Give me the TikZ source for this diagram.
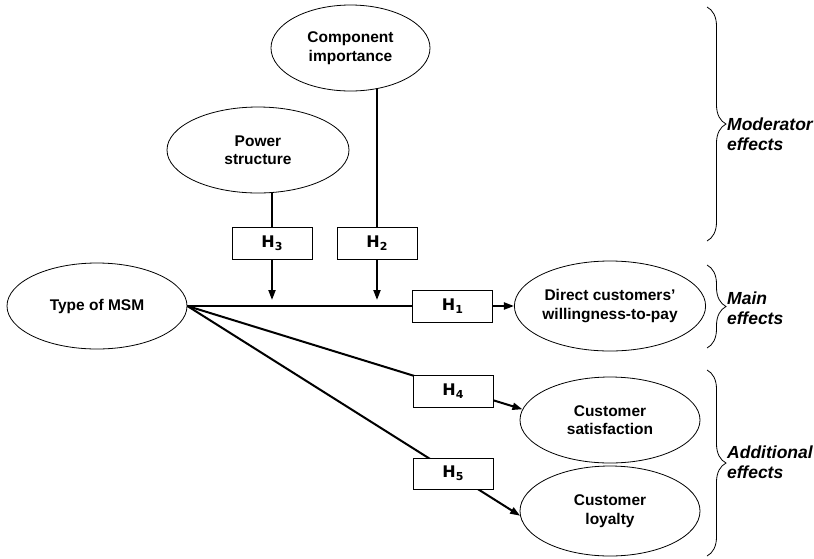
\documentclass[tikz,border=0pt]{standalone}
\usepackage{fontspec}
\setmainfont{Liberation Sans}
\newfontfamily\hypfont{DejaVu Sans}
\usetikzlibrary{shapes.geometric,arrows.meta,decorations.pathreplacing,backgrounds}

% H label with a lowered index
\newcommand{\hyplabel}[1]{H\raisebox{-2.8pt}{\fontsize{11}{11}\selectfont #1}}

\tikzset{
  factor/.style={ellipse, draw, line width=0.8pt, fill=white, inner sep=0pt,
    minimum width=180pt, minimum height=86pt, align=center,
    font=\fontsize{15.5}{18.5}\selectfont\bfseries},
  hyp/.style={rectangle, draw, line width=0.9pt, fill=white,
    minimum width=80pt, minimum height=32pt, inner sep=0pt,
    font=\hypfont\bfseries\fontsize{16}{16}\selectfont},
  conn/.style={line width=2pt},
  arr/.style={conn, -{Triangle[length=10pt,width=7pt]}},
  grp/.style={decorate, decoration={brace, amplitude=19pt}, line width=0.8pt},
  grplabel/.style={anchor=west, align=left, inner sep=0pt,
    font=\fontsize{17.5}{20}\selectfont\bfseries\itshape},
}

\begin{document}
\begin{tikzpicture}[x=1pt, y=-1pt]
  \useasboundingbox (0,0) rectangle (814,558);

  % constructs
  \node[factor, minimum width=159pt] (comp) at (350.5,48) {Component\\importance};
  \node[factor, minimum width=182pt] (pow) at (258,150) {Power\\structure};
  \node[factor] (msm) at (97,306) {Type of MSM};
  \node[factor, minimum height=90pt] (dir) at (610,306) {Direct customers’\\willingness-to-pay};
  \node[factor] (sat) at (610,420) {Customer\\satisfaction};
  \node[factor, minimum height=90pt] (loy) at (610,511) {Customer\\loyalty};

  % hypotheses
  \node[hyp] (h3) at (272,243) {\hyplabel{3}};
  \node[hyp] (h2) at (377,243) {\hyplabel{2}};
  \node[hyp] (h1) at (452.5,306) {\hyplabel{1}};
  \node[hyp] (h4) at (453,391) {\hyplabel{4}};
  \node[hyp, minimum height=31pt] (h5) at (453,473.5) {\hyplabel{5}};

  % moderator arrows end just above the main path
  \coordinate (t3) at (272,300);
  \coordinate (t2) at (377,300);

  % paths run behind the white-filled boxes and ellipses
  \begin{scope}[on background layer]
    \draw[arr] (pow.center -| t3) -- (t3);
    \draw[arr] (comp.center -| t2) -- (t2);
    \draw[arr] (msm.east) -- (dir.west);
    \draw[arr] (msm.east) -- (sat.173);
    \draw[arr] (msm.east) -- (loy.183);
  \end{scope}

  % effect groups
  \coordinate (m1) at (707,7);
  \coordinate (m2) at (707,241);
  \coordinate (e1) at (707,265);
  \coordinate (e2) at (707,348);
  \coordinate (a1) at (707,370);
  \coordinate (a2) at (707,556);
  \draw[grp] (m1) -- (m2);
  \draw[grp] (e1) -- (e2);
  \draw[grp] (a1) -- (a2);
  \node[grplabel] (lm) at (727,134) {Moderator\\effects};
  \node[grplabel] (le) at (727,308) {Main\\effects};
  \node[grplabel] (la) at (727,462) {Additional\\effects};
\end{tikzpicture}
\end{document}
